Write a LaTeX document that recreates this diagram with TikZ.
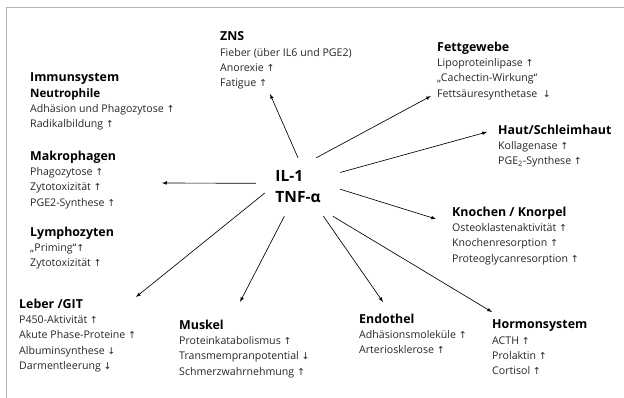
\documentclass[tikz,border=0pt]{standalone}
\usepackage{fontspec}
\setmainfont{Open Sans}
\newfontfamily\arrowfont{DejaVu Sans}
\usepackage{tikz}
\usetikzlibrary{
  arrows,%
  positioning,%
  calc
}
\definecolor{bodygray}{HTML}{262626}
\definecolor{framegray}{HTML}{B4B4B4}
\newcommand{\upar}{{\arrowfont\fontsize{9.5}{15.2}\selectfont ↑}}
\newcommand{\dnar}{{\arrowfont\fontsize{9.5}{15.2}\selectfont ↓}}
\newcommand{\blockhead}[1]{{\fontsize{12.4}{15.2}\selectfont\bfseries\color{black}#1}}
\newcommand{\subhead}[1]{{\fontsize{11.6}{15.2}\selectfont\bfseries\color{black}#1}}
\tikzset{>=latex}
\tikzset{block/.style={anchor=north west, inner sep=0pt, align=left,
    font=\fontsize{10.6}{15.2}\selectfont, text=bodygray}}
\tikzset{link/.style={->, line width=0.65pt}}

\begin{document}
\begin{tikzpicture}[x=1pt, y=-1pt]
  \useasboundingbox (0,0) rectangle (624,398);
  % frame, only top and left edge show
  \draw[framegray, line width=1.5pt] (6.5,398) -- (6.5,7.5) -- (624,7.5);

  % centre
  \node[inner sep=0pt, minimum width=84pt, minimum height=58pt, align=left,
        font=\fontsize{15.5}{21}\selectfont\bfseries] (il) at (298,187) {IL-1\\TNF-α};

  % effects
  \node[block] (zns) at (220,31.8) {\blockhead{ZNS}\\Fieber (über IL6 und PGE2)\\Anorexie \upar\\Fatigue \upar};
  \node[block] (immun) at (30,72.8) {\blockhead{Immunsystem}\\\subhead{Neutrophile}\\Adhäsion und Phagozytose \upar\\Radikalbildung \upar};
  \node[block] (makro) at (30,150.8) {\blockhead{Makrophagen}\\Phagozytose \upar\\Zytotoxizität \upar\\PGE2-Synthese \upar};
  \node[block] (lympho) at (30,226.8) {\blockhead{Lymphozyten}\\„Priming“\upar\\Zytotoxizität \upar};
  \node[block] (leber) at (19,298.8) {\blockhead{Leber /GIT}\\P450-Aktivität \upar\\Akute Phase-Proteine \upar\\Albuminsynthese \dnar\\Darmentleerung \dnar};
  \node[block] (muskel) at (179,319.8) {\blockhead{Muskel}\\Proteinkatabolismus \upar\\Transmempranpotential \dnar\\Schmerzwahrnehmung \upar};
  \node[block] (endo) at (359,313.8) {\blockhead{Endothel}\\Adhäsionsmoleküle \upar\\Arteriosklerose \upar};
  \node[block] (hormon) at (492,319.8) {\blockhead{Hormonsystem}\\ACTH \upar\\Prolaktin \upar\\Cortisol \upar};
  \node[block] (knochen) at (452,206.8) {\blockhead{Knochen / Knorpel}\\Osteoklastenaktivität \upar\\Knochenresorption \upar\\Proteoglycanresorption \upar};
  \node[block] (fett) at (437,41.8) {\blockhead{Fettgewebe}\\Lipoproteinlipase \upar\\„Cachectin-Wirkung“\\Fettsäuresynthetase \ \dnar};
  \node[block] (haut) at (498,124.8) {\blockhead{Haut/Schleimhaut}\\Kollagenase \upar\\PGE\textsubscript{2}-Synthese \upar};

  % arrow tips
  \coordinate (zns-tip) at (270,94);
  \coordinate (fett-tip) at (431,96);
  \coordinate (haut-tip) at (487,132);
  \coordinate (knochen-tip) at (436,219);
  \coordinate (hormon-tip) at (492,312);
  \coordinate (endo-tip) at (383,302);
  \coordinate (muskel-tip) at (240,302);
  \coordinate (leber-tip) at (136,297);
  \coordinate (makro-tip) at (162,183);

  \draw[link] (il.north) -- (zns-tip);
  \draw[link] (il.58) -- (fett-tip);
  \draw[link] (il.19) -- (haut-tip);
  \draw[link] (il.-3) -- (knochen-tip);
  \draw[link] (il.-40) -- (hormon-tip);
  \draw[link] (il.-49) -- (endo-tip);
  \draw[link] (il.-115) -- (muskel-tip);
  \draw[link] ([xshift=9pt, yshift=-6pt]il.west) -- (leber-tip);
  \draw[link] (il.175) -- (makro-tip);
\end{tikzpicture}
\end{document}
